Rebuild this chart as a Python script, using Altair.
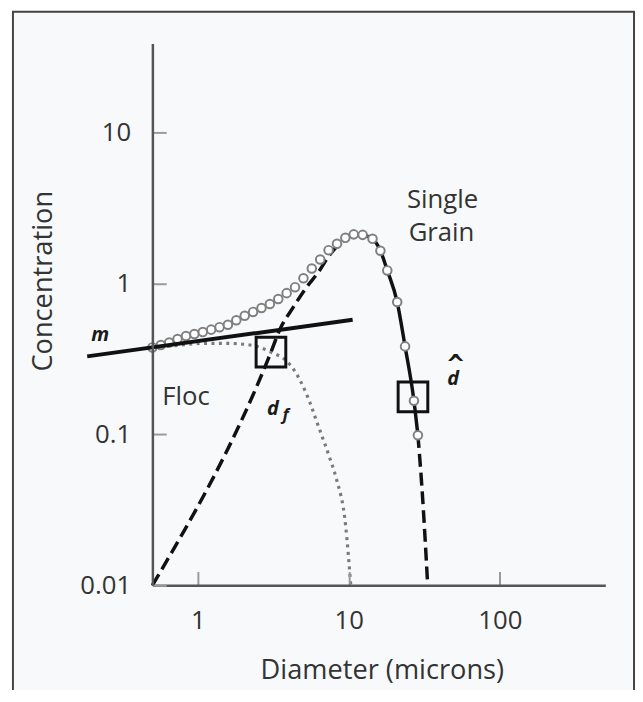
import altair as alt
import pandas as pd

# ---- axis values ----
x_ticks = [1, 10, 100]
y_ticks = [0.01, 0.1, 1, 10]
x_domain = [0.5, 500]
y_domain = [0.01, 38.7]

# ---- total concentration (open circles) ----
total_d = [0.50, 0.569, 0.646, 0.734, 0.835, 0.949, 1.078, 1.225, 1.393, 1.582,
           1.798, 2.044, 2.323, 2.640, 3.000, 3.410, 3.875, 4.404, 5.005, 5.686,
           6.463, 7.345, 8.350, 9.487, 10.78, 12.35, 14.35, 16.19, 17.98, 20.91,
           23.58, 27.0, 28.68]
total_c = [0.376, 0.390, 0.405, 0.427, 0.447, 0.461, 0.475, 0.493, 0.512, 0.531,
           0.569, 0.609, 0.646, 0.686, 0.729, 0.786, 0.860, 0.942, 1.078, 1.253,
           1.435, 1.656, 1.826, 1.998, 2.107, 2.091, 1.968, 1.643, 1.216, 0.751,
           0.382, 0.1668, 0.0985]

# ---- single grain population ----
sg_rise_d = [0.5, 3.05, 3.49, 4.30, 5.24, 6.27, 7.40, 9.14, 10.78, 12.35]
sg_rise_c = [0.01, 0.35, 0.493, 0.697, 0.94, 1.18, 1.52, 1.91, 2.107, 2.091]
sg_peak_d = [12.35, 14.35, 16.19, 17.98, 20.91, 23.58, 27.0, 28.68]
sg_peak_c = [2.091, 1.968, 1.643, 1.216, 0.751, 0.382, 0.1668, 0.0985]
sg_tail_d = [28.68, 30.5, 33.3]
sg_tail_c = [0.0985, 0.0444, 0.01]

# ---- floc population ----
floc_d = [0.5, 0.74, 1.078, 1.582, 2.29, 3.05, 3.875, 4.30, 5.24, 6.37, 7.40, 8.23, 9.55, 10.3]
floc_c = [0.371, 0.388, 0.40, 0.40, 0.388, 0.35, 0.305, 0.27, 0.185, 0.109, 0.0718, 0.0516, 0.0243, 0.01]

# ---- slope line m ----
m_d = [0.185, 10.6]
m_c = [0.328, 0.573]

# ---- marked diameters (d_f and d-hat) ----
box_d = [3.05, 26.6]
box_c = [0.35, 0.177]

# ---- annotations ----
plain_labels = ["Single", "Grain", "Floc"]
plain_d = [41.8, 41.1, 0.835]
plain_c = [3.57, 2.14, 0.176]
math_labels = ["m", "d", "d"]
math_d = [0.2254, 3.14, 49.0]
math_c = [0.451, 0.148, 0.232]
sub_labels = ["f"]
sub_d = [3.82]
sub_c = [0.135]
hat_labels = ["ˆ"]
hat_d = [51.0]
hat_c = [0.245]

W, H = 458, 548
FONT = "Open Sans"
TXT = "#333333"

xs = alt.Scale(type="log", domain=x_domain, nice=False)
ys = alt.Scale(type="log", domain=y_domain, nice=False)

x_axis = alt.Axis(
    orient="top", offset=-H, values=x_ticks, format="~g", grid=False,
    domainColor="#555555", domainWidth=2.5,
    ticks=True, tickSize=14, tickColor="#9a9a9a", tickWidth=2,
    labelPadding=-58, labelBaseline="alphabetic", labelAlign="center",
    labelFont=FONT, labelFontSize=26, labelColor=TXT,
    title="Diameter (microns)", titleFont=FONT, titleFontSize=27.5,
    titleFontWeight="normal", titleColor=TXT, titleX=232, titleY=94,
    titleAlign="center", titleBaseline="alphabetic", titleAngle=0, zindex=1,
)
y_axis = alt.Axis(
    orient="right", offset=-W, values=y_ticks, format="~g", grid=False,
    domainColor="#555555", domainWidth=2.5,
    ticks=True, tickSize=14, tickColor="#9a9a9a", tickWidth=2,
    labelPadding=-36, labelBaseline="middle", labelAlign="right",
    labelFont=FONT, labelFontSize=26, labelColor=TXT,
    title="Concentration", titleFont=FONT, titleFontSize=27.5,
    titleFontWeight="normal", titleColor=TXT, titleX=-110, titleY=240,
    titleAlign="center", titleBaseline="middle", titleAngle=270, zindex=1,
)


def df(d, c, **extra):
    out = pd.DataFrame({"d": d, "c": c})
    for k, v in extra.items():
        out[k] = v
    return out


def enc():
    return dict(
        x=alt.X("d:Q", scale=xs, axis=x_axis),
        y=alt.Y("c:Q", scale=ys, axis=y_axis),
    )


frame = alt.Chart(pd.DataFrame({"k": [0]})).mark_rect(
    fill="#f8f9fb", stroke="#444444", strokeWidth=2, clip=False
).encode(x=alt.value(-141), x2=alt.value(487), y=alt.value(-32), y2=alt.value(700))

floc = alt.Chart(df(floc_d, floc_c)).mark_line(
    color="#7a7a7a", strokeWidth=3.2, strokeDash=[3, 4.5], strokeCap="butt",
    interpolate="monotone"
).encode(**enc())

sg_dashed = alt.Chart(pd.concat([
    df(sg_rise_d, sg_rise_c, part="rise"),
    df(sg_tail_d, sg_tail_c, part="tail"),
])).mark_line(
    color="#111111", strokeWidth=3.5, strokeDash=[13, 6], interpolate="monotone"
).encode(detail="part:N", **enc())

sg_solid = alt.Chart(df(sg_peak_d, sg_peak_c)).mark_line(
    color="#111111", strokeWidth=3.5, interpolate="monotone"
).encode(**enc())

total = alt.Chart(df(total_d, total_c)).mark_point(
    shape="circle", filled=True, fill="white", stroke="#808080",
    strokeWidth=2, size=75, opacity=1, fillOpacity=1, strokeOpacity=1
).encode(**enc())

mline = alt.Chart(df(m_d, m_c)).mark_line(
    color="#111111", strokeWidth=4, clip=False
).encode(**enc())

boxes = alt.Chart(df(box_d, box_c)).mark_point(
    shape="square", filled=False, color="#111111", strokeWidth=3, size=900, opacity=1
).encode(**enc())

plain = alt.Chart(pd.DataFrame({"d": plain_d, "c": plain_c, "t": plain_labels})).mark_text(
    font=FONT, fontSize=26, color=TXT, align="center", baseline="middle", clip=False
).encode(text="t:N", **enc())

math = alt.Chart(pd.DataFrame({"d": math_d, "c": math_c, "t": math_labels})).mark_text(
    font=FONT, fontSize=20, fontStyle="italic", fontWeight="bold", color="#1a1a1a",
    align="center", baseline="middle", clip=False
).encode(text="t:N", **enc())

sub = alt.Chart(pd.DataFrame({"d": sub_d, "c": sub_c, "t": sub_labels})).mark_text(
    font=FONT, fontSize=17, fontStyle="italic", fontWeight="bold", color="#1a1a1a",
    align="center", baseline="middle"
).encode(text="t:N", **enc())

hat = alt.Chart(pd.DataFrame({"d": hat_d, "c": hat_c, "t": hat_labels})).mark_text(
    font=FONT, fontSize=44, fontWeight="normal", color="#1a1a1a",
    align="center", baseline="middle"
).encode(text="t:N", **enc())

chart = alt.layer(
    frame, floc, sg_dashed, sg_solid, total, mline, boxes, plain, math, sub, hat
).properties(
    width=W, height=H,
    autosize=alt.AutoSizeParams(type="none"),
    padding={"left": 146, "top": 32, "right": 30, "bottom": 102},
).configure_view(stroke=None).configure(font=FONT, background="white")

chart.save("out.html", embed_options={"renderer": "svg", "actions": False})
